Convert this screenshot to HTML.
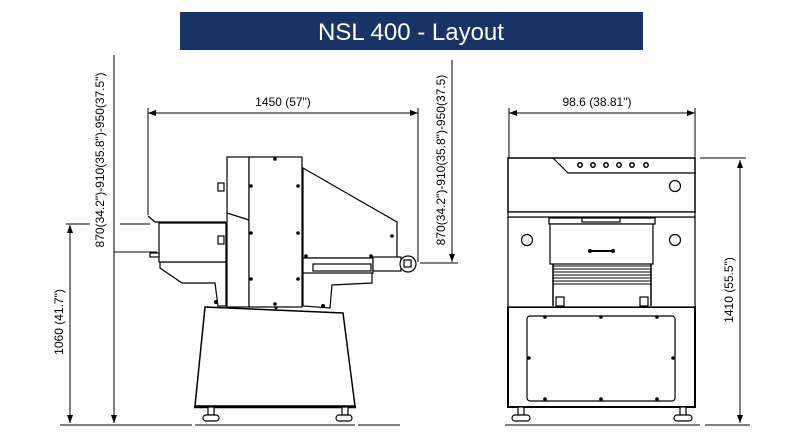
<!DOCTYPE html>
<html><head><meta charset="utf-8"><style>
html,body{margin:0;padding:0;background:#fff;width:789px;height:443px;overflow:hidden}
svg{display:block}
text{font-family:"Liberation Sans",sans-serif;fill:#000}
</style></head><body>
<svg width="789" height="443" viewBox="0 0 789 443" xmlns="http://www.w3.org/2000/svg">
<defs>
<marker id="a" markerWidth="8" markerHeight="6" refX="8" refY="3" orient="auto-start-reverse" markerUnits="userSpaceOnUse"><path d="M0,0 L8,3 L0,6 z" fill="#000"/></marker>
</defs>
<rect x="180" y="12" width="463" height="38" fill="#1a3366"/>
<text x="411" y="40" font-size="24" text-anchor="middle" style="fill:#fff">NSL 400 - Layout</text>

<g stroke="#000" stroke-width="1" fill="none">
<!-- dimension lines left view -->
<line x1="148" y1="113" x2="418" y2="113" marker-start="url(#a)" marker-end="url(#a)"/>
<line x1="148" y1="108" x2="148" y2="215"/>
<line x1="418" y1="108" x2="418" y2="262"/>
<line x1="114" y1="55" x2="114" y2="423" marker-end="url(#a)"/>
<line x1="114" y1="252" x2="157" y2="252"/>
<line x1="70" y1="225" x2="70" y2="423" marker-start="url(#a)" marker-end="url(#a)"/>
<line x1="66" y1="224" x2="90" y2="224"/><line x1="120" y1="224" x2="150" y2="224"/>
<line x1="452" y1="60" x2="452" y2="262" marker-end="url(#a)"/>
<line x1="420" y1="263" x2="458" y2="263"/>
<line x1="60" y1="425" x2="192" y2="425"/><line x1="195" y1="425" x2="355" y2="425"/><line x1="358" y1="425" x2="400" y2="425"/>
<!-- right view dims -->
<line x1="509" y1="113" x2="695" y2="113" marker-start="url(#a)" marker-end="url(#a)"/>
<line x1="509" y1="108" x2="509" y2="158"/><line x1="695" y1="108" x2="695" y2="158"/>
<line x1="740" y1="160" x2="740" y2="423" marker-start="url(#a)" marker-end="url(#a)"/>
<line x1="700" y1="158" x2="746" y2="158"/>
<line x1="505" y1="425" x2="700" y2="425"/><line x1="705" y1="425" x2="750" y2="425"/>
</g>

<text x="283" y="106" font-size="12" text-anchor="middle">1450 (57")</text>
<text x="597" y="106" font-size="12" text-anchor="middle">98.6 (38.81")</text>
<text transform="translate(104,160) rotate(-90)" font-size="12" text-anchor="middle">870(34.2")-910(35.8")-950(37.5")</text>
<text transform="translate(445,160) rotate(-90)" font-size="12" text-anchor="middle">870(34.2")-910(35.8")-950(37.5)</text>
<text transform="translate(63,322) rotate(-90)" font-size="12" text-anchor="middle">1060 (41.7")</text>
<text transform="translate(733,290) rotate(-90)" font-size="12" text-anchor="middle">1410 (55.5")</text>

<!-- left machine -->
<g stroke="#000" stroke-width="1.2" fill="#fff">
<path d="M205,307 L343,313 L355,406 L195,406 Z" stroke-width="1.5"/>
<line x1="194" y1="407" x2="356" y2="407" stroke-width="2.5"/>
<rect x="208" y="407" width="6" height="8"/><rect x="203" y="415" width="16" height="6" rx="3"/>
<rect x="342" y="407" width="6" height="8"/><rect x="336" y="415" width="16" height="6" rx="3"/>
<path d="M160,262 L160,268 L182,283 L215,283 L218,306 L226,306 L226,262 Z"/>
<path d="M372,272 L372,283 L332,285 L330,308 L303,306 L303,272 Z"/>
<rect x="159" y="223" width="67" height="39"/>
<path d="M148,216 L155,222 L226,222" fill="none"/>
<path d="M303,168 L397,222 L397,258 L303,258 Z"/>
<rect x="303" y="258" width="70" height="15"/>
<rect x="313" y="264" width="58" height="7"/>
<rect x="227" y="157" width="22" height="150"/>
<rect x="249" y="157" width="53" height="150"/>
<path d="M227,213 L249,220" fill="none"/>
<rect x="373" y="257" width="28" height="14"/>
<circle cx="408" cy="264" r="8"/><rect x="404" y="260" width="7" height="7"/>
<rect x="218" y="183" width="6" height="8"/><rect x="218" y="236" width="6" height="8"/>
<rect x="150" y="253" width="9" height="4"/>
</g>
<g fill="#000">
<circle cx="275" cy="159" r="1.8"/><circle cx="251" cy="186" r="1.8"/><circle cx="298" cy="186" r="1.8"/>
<circle cx="251" cy="233" r="1.8"/><circle cx="298" cy="233" r="1.8"/><circle cx="251" cy="279" r="1.8"/><circle cx="298" cy="279" r="1.8"/>
<circle cx="275" cy="304" r="1.8"/><circle cx="392" cy="236" r="1.8"/><circle cx="306" cy="256" r="1.8"/><circle cx="371" cy="256" r="1.8"/>
<circle cx="216" cy="302" r="2"/><circle cx="323" cy="306" r="2"/><circle cx="276" cy="308" r="1.5"/>
</g>

<!-- right machine -->
<g stroke="#000" stroke-width="1.2" fill="#fff">
<rect x="508" y="307" width="187" height="100" stroke-width="2"/>
<rect x="527" y="316" width="148" height="85" rx="3"/>
<rect x="518" y="407" width="6" height="8"/><rect x="512" y="415" width="18" height="6" rx="3"/>
<rect x="680" y="407" width="6" height="8"/><rect x="674" y="415" width="18" height="6" rx="3"/>
<rect x="508" y="217" width="187" height="90"/>
<rect x="508" y="158" width="187" height="54" stroke-width="1.5"/>
<path d="M553,158 L568,173 L695,173" fill="none"/>
<rect x="508" y="212" width="187" height="5"/>
<circle cx="675" cy="186" r="5.5"/><circle cx="527" cy="240" r="5.5"/><circle cx="675" cy="240" r="5.5"/>
<rect x="549" y="218" width="106" height="6"/><rect x="582" y="218" width="38" height="4"/>
<rect x="550" y="224" width="103" height="40"/>
<path d="M553,264 L553,306 M651,264 L651,306" fill="none" stroke-width="1.5"/>
<rect x="556" y="297" width="8" height="9"/><rect x="640" y="297" width="8" height="9"/>
</g>
<g stroke="#000" stroke-width="1">
<line x1="553" y1="266" x2="651" y2="266"/><line x1="553" y1="269" x2="651" y2="269"/><line x1="553" y1="272" x2="651" y2="272"/><line x1="553" y1="275" x2="651" y2="275"/><line x1="553" y1="278" x2="651" y2="278"/><line x1="553" y1="281" x2="651" y2="281"/><line x1="553" y1="284" x2="651" y2="284"/>
<line x1="590" y1="251" x2="613" y2="251" stroke-width="2"/>
</g>
<g fill="#fff" stroke="#000" stroke-width="1.5">
<circle cx="580" cy="165" r="2.2"/><circle cx="593" cy="165" r="2.2"/><circle cx="606" cy="165" r="2.2"/><circle cx="619" cy="165" r="2.2"/><circle cx="632" cy="165" r="2.2"/><circle cx="646" cy="165" r="2.2"/>
</g>
<g fill="#000">
<circle cx="590" cy="251" r="2"/><circle cx="613" cy="251" r="2"/>
<circle cx="545" cy="317" r="1.8"/><circle cx="601" cy="317" r="1.8"/><circle cx="657" cy="317" r="1.8"/>
<circle cx="545" cy="399" r="1.8"/><circle cx="601" cy="399" r="1.8"/><circle cx="657" cy="399" r="1.8"/>
<circle cx="529" cy="358" r="1.8"/><circle cx="673" cy="358" r="1.8"/>
</g>
</svg>
</body></html>
